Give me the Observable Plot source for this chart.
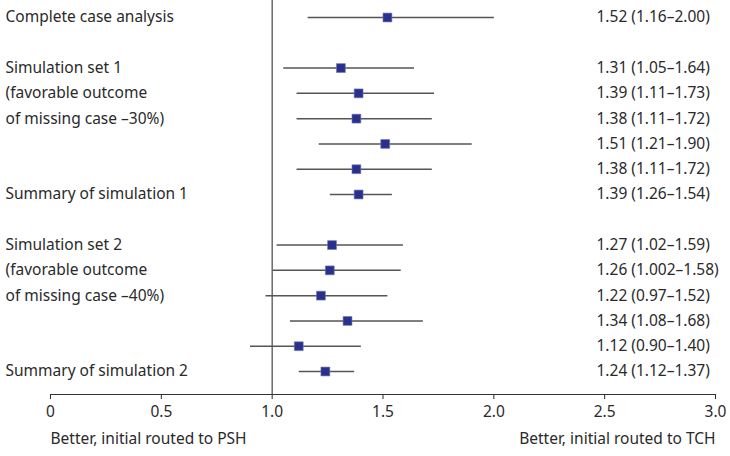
<!DOCTYPE html>
<html>
<head>
<meta charset="utf-8">
<script src="https://cdn.jsdelivr.net/npm/d3@7"></script>
<script src="https://cdn.jsdelivr.net/npm/@observablehq/plot@0.6"></script>
<style>
  html, body { margin: 0; padding: 0; background: #fff; }
  #chart svg { display: block; }
</style>
</head>
<body>
<div id="chart"></div>
<script>
const rows = [0, 2, 3, 4, 5, 6, 7, 9, 10, 11, 12, 13, 14];
const leftLabels = ["Complete case analysis", "Simulation set 1", "(favorable outcome", "of missing case \u201330%)", "", "", "Summary of simulation 1",
  "Simulation set 2", "(favorable outcome", "of missing case \u201340%)", "", "", "Summary of simulation 2"];
const estimates = [1.52, 1.31, 1.39, 1.38, 1.51, 1.38, 1.39, 1.27, 1.26, 1.22, 1.34, 1.12, 1.24];
const lower = [1.16, 1.05, 1.11, 1.11, 1.21, 1.11, 1.26, 1.02, 1.002, 0.97, 1.08, 0.90, 1.12];
const upper = [2.00, 1.64, 1.73, 1.72, 1.90, 1.72, 1.54, 1.59, 1.58, 1.52, 1.68, 1.40, 1.37];
const ciLabels = ["1.52 (1.16\u20132.00)", "1.31 (1.05\u20131.64)", "1.39 (1.11\u20131.73)", "1.38 (1.11\u20131.72)", "1.51 (1.21\u20131.90)",
  "1.38 (1.11\u20131.72)", "1.39 (1.26\u20131.54)", "1.27 (1.02\u20131.59)", "1.26 (1.002\u20131.58)", "1.22 (0.97\u20131.52)",
  "1.34 (1.08\u20131.68)", "1.12 (0.90\u20131.40)", "1.24 (1.12\u20131.37)"];
const xTicks = [0, 0.5, 1.0, 1.5, 2.0, 2.5, 3.0];
const xTickLabels = ["0", "0.5", "1.0", "1.5", "2.0", "2.5", "3.0"];
const bottomLeft = "Better, initial routed to PSH";
const bottomRight = "Better, initial routed to TCH";

const data = rows.map((r, i) => ({row: r, label: leftLabels[i], est: estimates[i], lo: lower[i], hi: upper[i], ci: ciLabels[i]}));

const font = "'Noto Sans', 'DejaVu Sans', sans-serif";
const textColor = "#2a2a2a";

const chart = Plot.plot({
  width: 730,
  height: 456,
  marginLeft: 50,
  marginRight: 15,
  marginTop: 0,
  marginBottom: 62,
  style: {fontFamily: font, fontSize: "15.5px", color: textColor, background: "#fff"},
  x: {domain: [0, 3], ticks: xTicks, tickFormat: (d, i) => xTickLabels[i], tickSize: 5, tickPadding: 6, label: null},
  y: {domain: [0, 14], range: [17, 371], axis: null},
  marks: [
    Plot.frame({anchor: "bottom", stroke: "#333", strokeWidth: 1.2}),
    Plot.ruleX([1], {stroke: "#444", strokeWidth: 1.2}),
    Plot.link(data, {x1: "lo", x2: "hi", y1: "row", y2: "row", stroke: "#555", strokeWidth: 1.5}),
    Plot.dot(data, {x: "est", y: "row", symbol: "square", r: 5, fill: "#29318a", stroke: "#6f77b8", strokeWidth: 0.6}),
    Plot.text(data, {frameAnchor: "left", y: "row", text: "label", textAnchor: "start", dx: -45, fontSize: 15.5, fill: textColor}),
    Plot.text(data, {frameAnchor: "right", y: "row", text: "ci", textAnchor: "start", dx: -119, fontSize: 15.5, fill: textColor}),
    Plot.text([bottomLeft], {frameAnchor: "bottom-left", text: d => d, textAnchor: "start", dy: 49, fontSize: 15.5, fill: textColor}),
    Plot.text([bottomRight], {frameAnchor: "bottom-right", text: d => d, textAnchor: "end", dy: 49, fontSize: 15.5, fill: textColor})
  ]
});
document.getElementById("chart").appendChild(chart);
</script>
</body>
</html>
